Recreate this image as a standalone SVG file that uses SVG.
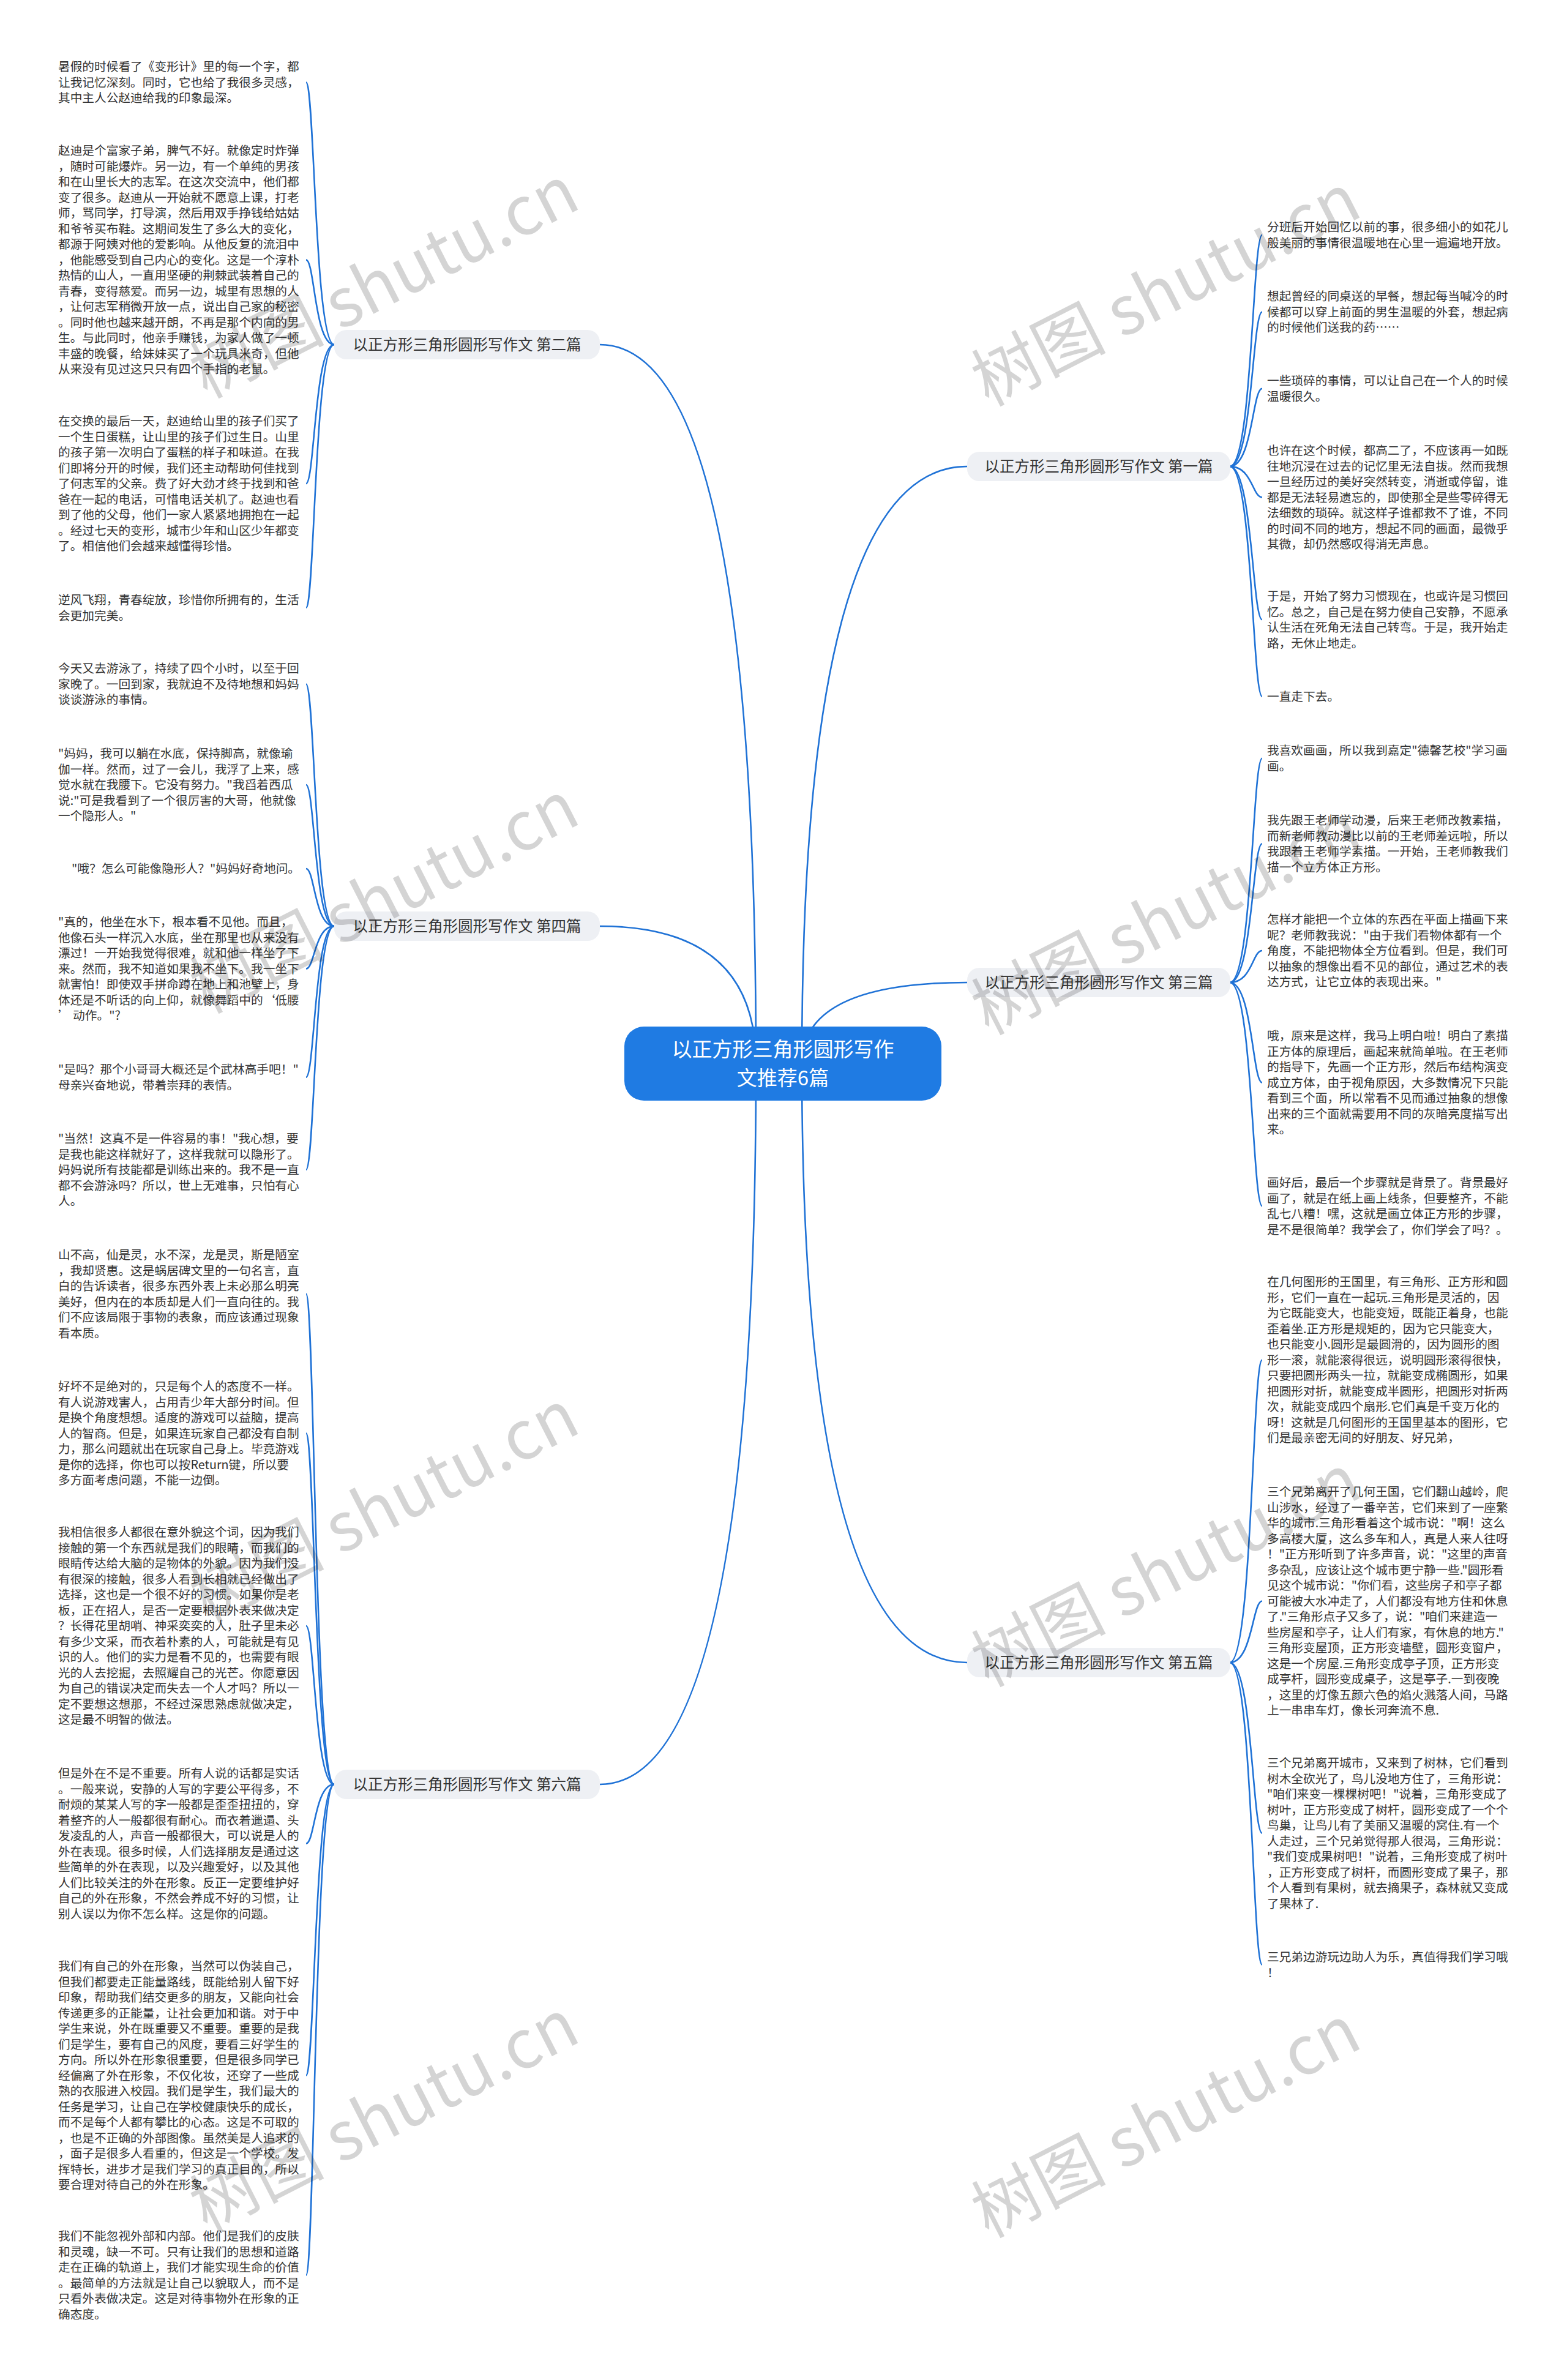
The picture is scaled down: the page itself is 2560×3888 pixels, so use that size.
<svg xmlns="http://www.w3.org/2000/svg" width="2560" height="3888" viewBox="0 0 2560 3888">
<style>
.t{font-family:"Noto Sans CJK SC","Liberation Sans",sans-serif;font-size:19.7px;fill:#333}
.b{font-family:"Noto Sans CJK SC","Liberation Sans",sans-serif;font-size:24.5px;fill:#333;text-anchor:middle}
.bn{fill:#eef0f4}
.c{fill:none;stroke:#1f72d6;stroke-width:2.6}
.w{font-family:"Noto Sans CJK SC","Liberation Serif",serif;font-size:110px;fill:#000;fill-opacity:0.17}
</style>
<rect width="2560" height="3888" fill="#fff"/>
<g id="connectors">
<path class="c" d="M1235 1737 Q1235 563 980 563"/>
<path class="c" d="M1235 1737 Q1235 1513 980 1513"/>
<path class="c" d="M1235 1737 Q1235 2915 980 2915"/>
<path class="c" d="M1310 1737 Q1310 762 1580 762"/>
<path class="c" d="M1310 1737 Q1310 1605 1580 1605"/>
<path class="c" d="M1310 1737 Q1310 2716 1580 2716"/>
<path class="c" d="M546 563 C514 563 514 134.5 500 134.5"/>
<path class="c" d="M546 563 C514 563 514 424.5 500 424.5"/>
<path class="c" d="M546 563 C514 563 514 790 500 790"/>
<path class="c" d="M546 563 C514 563 514 992.75 500 992.75"/>
<path class="c" d="M546 1513 C514 1513 514 1117.5 500 1117.5"/>
<path class="c" d="M546 1513 C514 1513 514 1282 500 1282"/>
<path class="c" d="M546 1513 C514 1513 514 1419 500 1419"/>
<path class="c" d="M546 1513 C514 1513 514 1582.5 500 1582.5"/>
<path class="c" d="M546 1513 C514 1513 514 1759.75 500 1759.75"/>
<path class="c" d="M546 1513 C514 1513 514 1911 500 1911"/>
<path class="c" d="M546 2915 C514 2915 514 2113.75 500 2113.75"/>
<path class="c" d="M546 2915 C514 2915 514 2341.5 500 2341.5"/>
<path class="c" d="M546 2915 C514 2915 514 2656 500 2656"/>
<path class="c" d="M546 2915 C514 2915 514 3011.75 500 3011.75"/>
<path class="c" d="M546 2915 C514 2915 514 3390.5 500 3390.5"/>
<path class="c" d="M546 2915 C514 2915 514 3716.75 500 3716.75"/>
<path class="c" d="M2009 762 C2046 762 2046 383.75 2062 383.75"/>
<path class="c" d="M2009 762 C2046 762 2046 509.5 2062 509.5"/>
<path class="c" d="M2009 762 C2046 762 2046 634.75 2062 634.75"/>
<path class="c" d="M2009 762 C2046 762 2046 812.5 2062 812.5"/>
<path class="c" d="M2009 762 C2046 762 2046 1012.25 2062 1012.25"/>
<path class="c" d="M2009 762 C2046 762 2046 1138 2062 1138"/>
<path class="c" d="M2009 1605 C2046 1605 2046 1238.75 2062 1238.75"/>
<path class="c" d="M2009 1605 C2046 1605 2046 1378.25 2062 1378.25"/>
<path class="c" d="M2009 1605 C2046 1605 2046 1553 2062 1553"/>
<path class="c" d="M2009 1605 C2046 1605 2046 1768.5 2062 1768.5"/>
<path class="c" d="M2009 1605 C2046 1605 2046 1970.25 2062 1970.25"/>
<path class="c" d="M2009 2716 C2046 2716 2046 2221.5 2062 2221.5"/>
<path class="c" d="M2009 2716 C2046 2716 2046 2615.5 2062 2615.5"/>
<path class="c" d="M2009 2716 C2046 2716 2046 2994.75 2062 2994.75"/>
<path class="c" d="M2009 2716 C2046 2716 2046 3209.75 2062 3209.75"/>
</g>
<g id="center">
<rect x="1020" y="1677" width="518" height="121" rx="32" fill="#1f7be3"/>
<text x="1279" y="1726" font-family="Noto Sans CJK SC,sans-serif" font-size="33" fill="#fff" text-anchor="middle">以正方形三角形圆形写作</text>
<text x="1279" y="1773" font-family="Noto Sans CJK SC,sans-serif" font-size="33" fill="#fff" text-anchor="middle">文推荐6篇</text>
</g>
<g id="b2"><rect class="bn" x="546" y="539" width="434" height="48" rx="20"/><text class="b" x="763" y="571.5">以正方形三角形圆形写作文 第二篇</text></g>
<g id="b4"><rect class="bn" x="546" y="1489" width="434" height="48" rx="20"/><text class="b" x="763" y="1521.5">以正方形三角形圆形写作文 第四篇</text></g>
<g id="b6"><rect class="bn" x="546" y="2891" width="434" height="48" rx="20"/><text class="b" x="763" y="2923.5">以正方形三角形圆形写作文 第六篇</text></g>
<g id="b1"><rect class="bn" x="1580" y="738" width="430" height="48" rx="20"/><text class="b" x="1795" y="770.5">以正方形三角形圆形写作文 第一篇</text></g>
<g id="b3"><rect class="bn" x="1580" y="1581" width="430" height="48" rx="20"/><text class="b" x="1795" y="1613.5">以正方形三角形圆形写作文 第三篇</text></g>
<g id="b5"><rect class="bn" x="1580" y="2692" width="430" height="48" rx="20"/><text class="b" x="1795" y="2724.5">以正方形三角形圆形写作文 第五篇</text></g>

<g id="l2-1"><text class="t" x="95" y="116"><tspan x="95">暑假的时候看了《变形计》里的每一个字，都</tspan><tspan x="95" dy="25.5">让我记忆深刻。同时，它也给了我很多灵感，</tspan><tspan x="95" dy="25.5">其中主人公赵迪给我的印象最深。</tspan></text></g>
<g id="l2-2"><text class="t" x="95" y="253"><tspan x="95">赵迪是个富家子弟，脾气不好。就像定时炸弹</tspan><tspan x="95" dy="25.5">，随时可能爆炸。另一边，有一个单纯的男孩</tspan><tspan x="95" dy="25.5">和在山里长大的志军。在这次交流中，他们都</tspan><tspan x="95" dy="25.5">变了很多。赵迪从一开始就不愿意上课，打老</tspan><tspan x="95" dy="25.5">师，骂同学，打导演，然后用双手挣钱给姑姑</tspan><tspan x="95" dy="25.5">和爷爷买布鞋。这期间发生了多么大的变化，</tspan><tspan x="95" dy="25.5">都源于阿姨对他的爱影响。从他反复的流泪中</tspan><tspan x="95" dy="25.5">，他能感受到自己内心的变化。这是一个淳朴</tspan><tspan x="95" dy="25.5">热情的山人，一直用坚硬的荆棘武装着自己的</tspan><tspan x="95" dy="25.5">青春，变得慈爱。而另一边，城里有思想的人</tspan><tspan x="95" dy="25.5">，让何志军稍微开放一点，说出自己家的秘密</tspan><tspan x="95" dy="25.5">。同时他也越来越开朗，不再是那个内向的男</tspan><tspan x="95" dy="25.5">生。与此同时，他亲手赚钱，为家人做了一顿</tspan><tspan x="95" dy="25.5">丰盛的晚餐，给妹妹买了一个玩具米奇，但他</tspan><tspan x="95" dy="25.5">从来没有见过这只只有四个手指的老鼠。</tspan></text></g>
<g id="l2-3"><text class="t" x="95" y="695"><tspan x="95">在交换的最后一天，赵迪给山里的孩子们买了</tspan><tspan x="95" dy="25.5">一个生日蛋糕，让山里的孩子们过生日。山里</tspan><tspan x="95" dy="25.5">的孩子第一次明白了蛋糕的样子和味道。在我</tspan><tspan x="95" dy="25.5">们即将分开的时候，我们还主动帮助何佳找到</tspan><tspan x="95" dy="25.5">了何志军的父亲。费了好大劲才终于找到和爸</tspan><tspan x="95" dy="25.5">爸在一起的电话，可惜电话关机了。赵迪也看</tspan><tspan x="95" dy="25.5">到了他的父母，他们一家人紧紧地拥抱在一起</tspan><tspan x="95" dy="25.5">。经过七天的变形，城市少年和山区少年都变</tspan><tspan x="95" dy="25.5">了。相信他们会越来越懂得珍惜。</tspan></text></g>
<g id="l2-4"><text class="t" x="95" y="987"><tspan x="95">逆风飞翔，青春绽放，珍惜你所拥有的，生活</tspan><tspan x="95" dy="25.5">会更加完美。</tspan></text></g>

<g id="l4-1"><text class="t" x="95" y="1099"><tspan x="95">今天又去游泳了，持续了四个小时，以至于回</tspan><tspan x="95" dy="25.5">家晚了。一回到家，我就迫不及待地想和妈妈</tspan><tspan x="95" dy="25.5">谈谈游泳的事情。</tspan></text></g>
<g id="l4-2"><text class="t" x="95" y="1238"><tspan x="95">"妈妈，我可以躺在水底，保持脚高，就像瑜</tspan><tspan x="95" dy="25.5">伽一样。然而，过了一会儿，我浮了上来，感</tspan><tspan x="95" dy="25.5">觉水就在我腰下。它没有努力。"我舀着西瓜</tspan><tspan x="95" dy="25.5">说:"可是我看到了一个很厉害的大哥，他就像</tspan><tspan x="95" dy="25.5">一个隐形人。"</tspan></text></g>
<g id="l4-3"><text class="t" x="117" y="1426">"哦？怎么可能像隐形人？"妈妈好奇地问。</text></g>
<g id="l4-4"><text class="t" x="95" y="1513"><tspan x="95">"真的，他坐在水下，根本看不见他。而且，</tspan><tspan x="95" dy="25.5">他像石头一样沉入水底，坐在那里也从来没有</tspan><tspan x="95" dy="25.5">漂过！一开始我觉得很难，就和他一样坐了下</tspan><tspan x="95" dy="25.5">来。然而，我不知道如果我不坐下。我一坐下</tspan><tspan x="95" dy="25.5">就害怕！即使双手拼命蹲在地上和池壁上，身</tspan><tspan x="95" dy="25.5">体还是不听话的向上仰，就像舞蹈中的‘低腰</tspan><tspan x="95" dy="25.5">’ 动作。"?</tspan></text></g>
<g id="l4-5"><text class="t" x="95" y="1754"><tspan x="95">"是吗？那个小哥哥大概还是个武林高手吧！"</tspan><tspan x="95" dy="25.5">母亲兴奋地说，带着崇拜的表情。</tspan></text></g>
<g id="l4-6"><text class="t" x="95" y="1867"><tspan x="95">"当然！这真不是一件容易的事！"我心想，要</tspan><tspan x="95" dy="25.5">是我也能这样就好了，这样我就可以隐形了。</tspan><tspan x="95" dy="25.5">妈妈说所有技能都是训练出来的。我不是一直</tspan><tspan x="95" dy="25.5">都不会游泳吗？所以，世上无难事，只怕有心</tspan><tspan x="95" dy="25.5">人。</tspan></text></g>

<g id="l6-1"><text class="t" x="95" y="2057"><tspan x="95">山不高，仙是灵，水不深，龙是灵，斯是陋室</tspan><tspan x="95" dy="25.5">，我却贤惠。这是蜗居碑文里的一句名言，直</tspan><tspan x="95" dy="25.5">白的告诉读者，很多东西外表上未必那么明亮</tspan><tspan x="95" dy="25.5">美好，但内在的本质却是人们一直向往的。我</tspan><tspan x="95" dy="25.5">们不应该局限于事物的表象，而应该通过现象</tspan><tspan x="95" dy="25.5">看本质。</tspan></text></g>
<g id="l6-2"><text class="t" x="95" y="2272"><tspan x="95">好坏不是绝对的，只是每个人的态度不一样。</tspan><tspan x="95" dy="25.5">有人说游戏害人，占用青少年大部分时间。但</tspan><tspan x="95" dy="25.5">是换个角度想想。适度的游戏可以益脑，提高</tspan><tspan x="95" dy="25.5">人的智商。但是，如果连玩家自己都没有自制</tspan><tspan x="95" dy="25.5">力，那么问题就出在玩家自己身上。毕竟游戏</tspan><tspan x="95" dy="25.5">是你的选择，你也可以按Return键，所以要</tspan><tspan x="95" dy="25.5">多方面考虑问题，不能一边倒。</tspan></text></g>
<g id="l6-3"><text class="t" x="95" y="2510"><tspan x="95">我相信很多人都很在意外貌这个词，因为我们</tspan><tspan x="95" dy="25.5">接触的第一个东西就是我们的眼睛，而我们的</tspan><tspan x="95" dy="25.5">眼睛传达给大脑的是物体的外貌。因为我们没</tspan><tspan x="95" dy="25.5">有很深的接触，很多人看到长相就已经做出了</tspan><tspan x="95" dy="25.5">选择，这也是一个很不好的习惯。如果你是老</tspan><tspan x="95" dy="25.5">板，正在招人，是否一定要根据外表来做决定</tspan><tspan x="95" dy="25.5">？长得花里胡哨、神采奕奕的人，肚子里未必</tspan><tspan x="95" dy="25.5">有多少文采，而衣着朴素的人，可能就是有见</tspan><tspan x="95" dy="25.5">识的人。他们的实力是看不见的，也需要有眼</tspan><tspan x="95" dy="25.5">光的人去挖掘，去照耀自己的光芒。你愿意因</tspan><tspan x="95" dy="25.5">为自己的错误决定而失去一个人才吗？所以一</tspan><tspan x="95" dy="25.5">定不要想这想那，不经过深思熟虑就做决定，</tspan><tspan x="95" dy="25.5">这是最不明智的做法。</tspan></text></g>
<g id="l6-4"><text class="t" x="95" y="2904"><tspan x="95">但是外在不是不重要。所有人说的话都是实话</tspan><tspan x="95" dy="25.5">。一般来说，安静的人写的字要公平得多，不</tspan><tspan x="95" dy="25.5">耐烦的某某人写的字一般都是歪歪扭扭的，穿</tspan><tspan x="95" dy="25.5">着整齐的人一般都很有耐心。而衣着邋遢、头</tspan><tspan x="95" dy="25.5">发凌乱的人，声音一般都很大，可以说是人的</tspan><tspan x="95" dy="25.5">外在表现。很多时候，人们选择朋友是通过这</tspan><tspan x="95" dy="25.5">些简单的外在表现，以及兴趣爱好，以及其他</tspan><tspan x="95" dy="25.5">人们比较关注的外在形象。反正一定要维护好</tspan><tspan x="95" dy="25.5">自己的外在形象，不然会养成不好的习惯，让</tspan><tspan x="95" dy="25.5">别人误以为你不怎么样。这是你的问题。</tspan></text></g>
<g id="l6-5"><text class="t" x="95" y="3219"><tspan x="95">我们有自己的外在形象，当然可以伪装自己，</tspan><tspan x="95" dy="25.5">但我们都要走正能量路线，既能给别人留下好</tspan><tspan x="95" dy="25.5">印象，帮助我们结交更多的朋友，又能向社会</tspan><tspan x="95" dy="25.5">传递更多的正能量，让社会更加和谐。对于中</tspan><tspan x="95" dy="25.5">学生来说，外在既重要又不重要。重要的是我</tspan><tspan x="95" dy="25.5">们是学生，要有自己的风度，要看三好学生的</tspan><tspan x="95" dy="25.5">方向。所以外在形象很重要，但是很多同学已</tspan><tspan x="95" dy="25.5">经偏离了外在形象，不仅化妆，还穿了一些成</tspan><tspan x="95" dy="25.5">熟的衣服进入校园。我们是学生，我们最大的</tspan><tspan x="95" dy="25.5">任务是学习，让自己在学校健康快乐的成长，</tspan><tspan x="95" dy="25.5">而不是每个人都有攀比的心态。这是不可取的</tspan><tspan x="95" dy="25.5">，也是不正确的外部图像。虽然美是人追求的</tspan><tspan x="95" dy="25.5">，面子是很多人看重的，但这是一个学校。发</tspan><tspan x="95" dy="25.5">挥特长，进步才是我们学习的真正目的，所以</tspan><tspan x="95" dy="25.5">要合理对待自己的外在形象。</tspan></text></g>
<g id="l6-6"><text class="t" x="95" y="3660"><tspan x="95">我们不能忽视外部和内部。他们是我们的皮肤</tspan><tspan x="95" dy="25.5">和灵魂，缺一不可。只有让我们的思想和道路</tspan><tspan x="95" dy="25.5">走在正确的轨道上，我们才能实现生命的价值</tspan><tspan x="95" dy="25.5">。最简单的方法就是让自己以貌取人，而不是</tspan><tspan x="95" dy="25.5">只看外表做决定。这是对待事物外在形象的正</tspan><tspan x="95" dy="25.5">确态度。</tspan></text></g>

<g id="r1-1"><text class="t" x="2070" y="378"><tspan x="2070">分班后开始回忆以前的事，很多细小的如花儿</tspan><tspan x="2070" dy="25.5">般美丽的事情很温暖地在心里一遍遍地开放。</tspan></text></g>
<g id="r1-2"><text class="t" x="2070" y="491"><tspan x="2070">想起曾经的同桌送的早餐，想起每当喊冷的时</tspan><tspan x="2070" dy="25.5">候都可以穿上前面的男生温暖的外套，想起病</tspan><tspan x="2070" dy="25.5">的时候他们送我的药……</tspan></text></g>
<g id="r1-3"><text class="t" x="2070" y="629"><tspan x="2070">一些琐碎的事情，可以让自己在一个人的时候</tspan><tspan x="2070" dy="25.5">温暖很久。</tspan></text></g>
<g id="r1-4"><text class="t" x="2070" y="743"><tspan x="2070">也许在这个时候，都高二了，不应该再一如既</tspan><tspan x="2070" dy="25.5">往地沉浸在过去的记忆里无法自拔。然而我想</tspan><tspan x="2070" dy="25.5">一旦经历过的美好突然转变，消逝或停留，谁</tspan><tspan x="2070" dy="25.5">都是无法轻易遗忘的，即使那全是些零碎得无</tspan><tspan x="2070" dy="25.5">法细数的琐碎。就这样子谁都救不了谁，不同</tspan><tspan x="2070" dy="25.5">的时间不同的地方，想起不同的画面，最微乎</tspan><tspan x="2070" dy="25.5">其微，却仍然感叹得消无声息。</tspan></text></g>
<g id="r1-5"><text class="t" x="2070" y="981"><tspan x="2070">于是，开始了努力习惯现在，也或许是习惯回</tspan><tspan x="2070" dy="25.5">忆。总之，自己是在努力使自己安静，不愿承</tspan><tspan x="2070" dy="25.5">认生活在死角无法自己转弯。于是，我开始走</tspan><tspan x="2070" dy="25.5">路，无休止地走。</tspan></text></g>
<g id="r1-6"><text class="t" x="2070" y="1145">一直走下去。</text></g>

<g id="r3-1"><text class="t" x="2070" y="1233"><tspan x="2070">我喜欢画画，所以我到嘉定"德馨艺校"学习画</tspan><tspan x="2070" dy="25.5">画。</tspan></text></g>
<g id="r3-2"><text class="t" x="2070" y="1347"><tspan x="2070">我先跟王老师学动漫，后来王老师改教素描，</tspan><tspan x="2070" dy="25.5">而新老师教动漫比以前的王老师差远啦，所以</tspan><tspan x="2070" dy="25.5">我跟着王老师学素描。一开始，王老师教我们</tspan><tspan x="2070" dy="25.5">描一个立方体正方形。</tspan></text></g>
<g id="r3-3"><text class="t" x="2070" y="1509"><tspan x="2070">怎样才能把一个立体的东西在平面上描画下来</tspan><tspan x="2070" dy="25.5">呢？老师教我说："由于我们看物体都有一个</tspan><tspan x="2070" dy="25.5">角度，不能把物体全方位看到。但是，我们可</tspan><tspan x="2070" dy="25.5">以抽象的想像出看不见的部位，通过艺术的表</tspan><tspan x="2070" dy="25.5">达方式，让它立体的表现出来。"</tspan></text></g>
<g id="r3-4"><text class="t" x="2070" y="1699"><tspan x="2070">哦，原来是这样，我马上明白啦！明白了素描</tspan><tspan x="2070" dy="25.5">正方体的原理后，画起来就简单啦。在王老师</tspan><tspan x="2070" dy="25.5">的指导下，先画一个正方形，然后布结构演变</tspan><tspan x="2070" dy="25.5">成立方体，由于视角原因，大多数情况下只能</tspan><tspan x="2070" dy="25.5">看到三个面，所以常看不见而通过抽象的想像</tspan><tspan x="2070" dy="25.5">出来的三个面就需要用不同的灰暗亮度描写出</tspan><tspan x="2070" dy="25.5">来。</tspan></text></g>
<g id="r3-5"><text class="t" x="2070" y="1939"><tspan x="2070">画好后，最后一个步骤就是背景了。背景最好</tspan><tspan x="2070" dy="25.5">画了，就是在纸上画上线条，但要整齐，不能</tspan><tspan x="2070" dy="25.5">乱七八糟！嘿，这就是画立体正方形的步骤，</tspan><tspan x="2070" dy="25.5">是不是很简单？我学会了，你们学会了吗？。</tspan></text></g>

<g id="r5-1"><text class="t" x="2070" y="2101"><tspan x="2070">在几何图形的王国里，有三角形、正方形和圆</tspan><tspan x="2070" dy="25.5">形，它们一直在一起玩.三角形是灵活的，因</tspan><tspan x="2070" dy="25.5">为它既能变大，也能变短，既能正着身，也能</tspan><tspan x="2070" dy="25.5">歪着坐.正方形是规矩的，因为它只能变大，</tspan><tspan x="2070" dy="25.5">也只能变小.圆形是最圆滑的，因为圆形的图</tspan><tspan x="2070" dy="25.5">形一滚，就能滚得很远，说明圆形滚得很快，</tspan><tspan x="2070" dy="25.5">只要把圆形两头一拉，就能变成椭圆形，如果</tspan><tspan x="2070" dy="25.5">把圆形对折，就能变成半圆形，把圆形对折两</tspan><tspan x="2070" dy="25.5">次，就能变成四个扇形.它们真是千变万化的</tspan><tspan x="2070" dy="25.5">呀！这就是几何图形的王国里基本的图形，它</tspan><tspan x="2070" dy="25.5">们是最亲密无间的好朋友、好兄弟，</tspan></text></g>
<g id="r5-2"><text class="t" x="2070" y="2444"><tspan x="2070">三个兄弟离开了几何王国，它们翻山越岭，爬</tspan><tspan x="2070" dy="25.5">山涉水，经过了一番辛苦，它们来到了一座繁</tspan><tspan x="2070" dy="25.5">华的城市.三角形看着这个城市说："啊！这么</tspan><tspan x="2070" dy="25.5">多高楼大厦，这么多车和人，真是人来人往呀</tspan><tspan x="2070" dy="25.5">！"正方形听到了许多声音，说："这里的声音</tspan><tspan x="2070" dy="25.5">多杂乱，应该让这个城市更宁静一些."圆形看</tspan><tspan x="2070" dy="25.5">见这个城市说："你们看，这些房子和亭子都</tspan><tspan x="2070" dy="25.5">可能被大水冲走了，人们都没有地方住和休息</tspan><tspan x="2070" dy="25.5">了."三角形点子又多了，说："咱们来建造一</tspan><tspan x="2070" dy="25.5">些房屋和亭子，让人们有家，有休息的地方."</tspan><tspan x="2070" dy="25.5">三角形变屋顶，正方形变墙壁，圆形变窗户，</tspan><tspan x="2070" dy="25.5">这是一个房屋.三角形变成亭子顶，正方形变</tspan><tspan x="2070" dy="25.5">成亭杆，圆形变成桌子，这是亭子.一到夜晚</tspan><tspan x="2070" dy="25.5">，这里的灯像五颜六色的焰火溅落人间，马路</tspan><tspan x="2070" dy="25.5">上一串串车灯，像长河奔流不息.</tspan></text></g>
<g id="r5-3"><text class="t" x="2070" y="2887"><tspan x="2070">三个兄弟离开城市，又来到了树林，它们看到</tspan><tspan x="2070" dy="25.5">树木全砍光了，鸟儿没地方住了，三角形说：</tspan><tspan x="2070" dy="25.5">"咱们来变一棵棵树吧！"说着，三角形变成了</tspan><tspan x="2070" dy="25.5">树叶，正方形变成了树杆，圆形变成了一个个</tspan><tspan x="2070" dy="25.5">鸟巢，让鸟儿有了美丽又温暖的窝住.有一个</tspan><tspan x="2070" dy="25.5">人走过，三个兄弟觉得那人很渴，三角形说：</tspan><tspan x="2070" dy="25.5">"我们变成果树吧！"说着，三角形变成了树叶</tspan><tspan x="2070" dy="25.5">，正方形变成了树杆，而圆形变成了果子，那</tspan><tspan x="2070" dy="25.5">个人看到有果树，就去摘果子，森林就又变成</tspan><tspan x="2070" dy="25.5">了果林了.</tspan></text></g>
<g id="r5-4"><text class="t" x="2070" y="3204"><tspan x="2070">三兄弟边游玩边助人为乐，真值得我们学习哦</tspan><tspan x="2070" dy="25.5">！</tspan></text></g>

<g id="watermarks">
<text class="w" transform="translate(645 495) rotate(-27)" text-anchor="middle">树图 shutu.cn</text>
<text class="w" transform="translate(1922 508) rotate(-27)" text-anchor="middle">树图 shutu.cn</text>
<text class="w" transform="translate(645 1500) rotate(-27)" text-anchor="middle">树图 shutu.cn</text>
<text class="w" transform="translate(1922 1535) rotate(-27)" text-anchor="middle">树图 shutu.cn</text>
<text class="w" transform="translate(645 2495) rotate(-27)" text-anchor="middle">树图 shutu.cn</text>
<text class="w" transform="translate(1922 2600) rotate(-27)" text-anchor="middle">树图 shutu.cn</text>
<text class="w" transform="translate(645 3490) rotate(-27)" text-anchor="middle">树图 shutu.cn</text>
<text class="w" transform="translate(1922 3500) rotate(-27)" text-anchor="middle">树图 shutu.cn</text>
</g>
</svg>
